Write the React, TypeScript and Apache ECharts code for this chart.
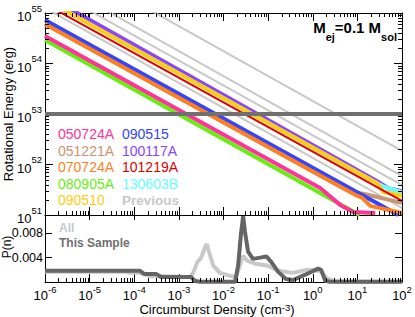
import React, { useEffect, useRef } from 'react';
import * as echarts from 'echarts';

const FONT = '"Liberation Sans", Arial, Helvetica, sans-serif';

// ---------- Top panel: [log10 density (cm^-3), log10 rotational energy (erg)] ----------
const E_050724A = [[-6, 54.545], [0.166, 51.535], [0.614, 51.2], [0.906, 51.06], [1.4, 51.04]];
const E_051221A = [[-6, 54.78], [0.457, 51.64], [0.84, 51.46], [1.13, 51.42], [2.0, 51.24]];
const E_070724A = [[-6, 54.78], [0.95, 51.4], [1.11, 51.34], [1.29, 51.18], [2.0, 51.04]];
const E_080905A = [[-6, 54.465], [1.05, 51.0]];
const E_090510 = [[-6, 55.27], [1.444, 51.63], [1.58, 51.455], [2.0, 51.38]];
const E_090515 = [[-6, 54.86], [1.92, 51.0]];
const E_100117A = [[-6, 55.36], [1.444, 51.67], [1.69, 51.53], [2.0, 51.47]];
const E_101219A = [[-6, 55.18], [2.0, 51.28]];
const E_130603B = [[-6, 55.27], [1.444, 51.63], [1.6, 51.56], [2.0, 51.45]];

const E_PREVIOUS = [
  [[-6, 55.1], [2.0, 51.14]],
  [[-6, 55.54], [2.0, 51.59]],
  [[-6, 55.73], [2.0, 51.77]],
  [[-6, 56.22], [2.0, 52.27]],
];
const E_LIMIT = [[-6, 53], [2, 53]];

// ---------- Bottom panel: [log10 density, P(n)] ----------
const P_ALL = [
  [-6, 0.0017], [-4.21, 0.0017], [-4.09, 0.0015], [-3.87, 0.0015], [-3.65, 0.001],
  [-2.75, 0.00083], [-2.68, 0.0015], [-2.59, 0.0032], [-2.5, 0.004], [-2.41, 0.0058],
  [-2.37, 0.0062], [-2.32, 0.0048], [-2.23, 0.0027], [-2.08, 0.0015], [-1.85, 0.001],
  [-1.72, 0.0008], [-1.63, 0.0028], [-1.56, 0.0043], [-1.47, 0.0035], [-1.29, 0.003],
  [-1.02, 0.0027], [-0.73, 0.0018], [-0.44, 0.0015], [-0.13, 0.002], [0.17, 0.0018],
  [0.3, 0.0007], [0.46, 0.00017], [0.73, 0.00005], [2, 0.00005],
];
const P_SAMPLE = [
  [-6, 0.00183], [-3.87, 0.00183], [-3.78, 0.00133], [-3.51, 0.00133], [-3.4, 0.00083],
  [-2.73, 0.00083], [-2.64, 0.00017], [-2.52, 0.00003], [-1.74, 0.00003], [-1.67, 0.0028],
  [-1.61, 0.0078], [-1.56, 0.0108], [-1.52, 0.0083], [-1.45, 0.005], [-1.34, 0.0038],
  [-1.18, 0.004], [-1.04, 0.0042], [-0.93, 0.0033], [-0.78, 0.0017], [-0.6, 0.0005],
  [-0.44, 0.00033], [-0.17, 0.0012], [0.12, 0.0022], [0.19, 0.002], [0.28, 0.0002],
  [0.39, 0.00003], [2, 0.00003],
];

const LEGEND_COL1 = ['050724A', '051221A', '070724A', '080905A', '090510'];
const LEGEND_COL2 = ['090515', '100117A', '101219A', '130603B', 'Previous'];

const COLORS: Record<string, string> = {
  '050724A': '#ff3399',
  '051221A': '#cc9470',
  '070724A': '#ff7f1e',
  '080905A': '#66ee11',
  '090510': '#ffcc11',
  '090515': '#3344ff',
  '100117A': '#8844ff',
  '101219A': '#dd0000',
  '130603B': '#66ffff',
  Previous: '#c8c8c8',
};

const lin = (pts: number[][]) => pts.map(([a, b]) => [Math.pow(10, a), Math.pow(10, b)]);
const linX = (pts: number[][]) => pts.map(([a, b]) => [Math.pow(10, a), b]);

const minorDecades = (from: number, to: number) => {
  const out: number[] = [];
  for (let k = from; k < to; k++) for (let m = 2; m <= 9; m++) out.push(m * Math.pow(10, k));
  return out;
};

const powLabel = (v: number) => `{b|10}{s|${Math.round(Math.log10(v))}}`;
const powRichY = {
  b: { fontSize: 13, fontFamily: FONT, color: '#000', lineHeight: 20, verticalAlign: 'bottom' },
  s: { fontSize: 9.5, fontFamily: FONT, color: '#000', lineHeight: 9, verticalAlign: 'top' },
};
const powRichX = {
  b: { fontSize: 13, fontFamily: FONT, color: '#000', lineHeight: 18, verticalAlign: 'bottom' },
  s: { fontSize: 9.5, fontFamily: FONT, color: '#000', lineHeight: 6, verticalAlign: 'top' },
};

const line = (name: string, pts: number[][], color: string, width: number, xi: number, yi: number) => ({
  type: 'line',
  name,
  data: pts,
  xAxisIndex: xi,
  yAxisIndex: yi,
  symbol: 'none',
  showSymbol: false,
  silent: true,
  lineStyle: { color, width },
  itemStyle: { color },
});

const frame = { show: true, onZero: false, lineStyle: { color: '#000', width: 1 } };
const tick = (length: number) => ({ show: true, inside: true, length, lineStyle: { color: '#000', width: 1 } });

function buildOption() {
  const series: any[] = [];
  E_PREVIOUS.forEach((p, i) => series.push(line('Previous' + i, lin(p), COLORS.Previous, 2, 0, 0)));
  series.push(line('051221A', lin(E_051221A), COLORS['051221A'], 4, 0, 0));
  series.push(line('090515', lin(E_090515), COLORS['090515'], 4, 0, 0));
  series.push(line('070724A', lin(E_070724A), COLORS['070724A'], 4, 0, 0));
  series.push(line('080905A', lin(E_080905A), COLORS['080905A'], 4, 0, 0));
  series.push(line('050724A', lin(E_050724A), COLORS['050724A'], 4, 0, 0));
  series.push(line('100117A', lin(E_100117A), COLORS['100117A'], 4, 0, 0));
  series.push(line('130603B', lin(E_130603B), COLORS['130603B'], 4, 0, 0));
  series.push(line('090510', lin(E_090510), COLORS['090510'], 4, 0, 0));
  series.push(line('101219A', lin(E_101219A), COLORS['101219A'], 2, 0, 0));
  series.push(line('limit', lin(E_LIMIT), '#707070', 4, 0, 0));

  series.push(line('All', linX(P_ALL), '#c8c8c8', 4, 2, 2));
  series.push(line('This Sample', linX(P_SAMPLE), '#656565', 4, 2, 2));

  const minorX = minorDecades(-6, 2);
  const minorY = minorDecades(51, 55);

  const xMinor = (gi: number, yRef: number, topLen: number, botLen: number) => ({
    type: 'custom',
    xAxisIndex: gi === 0 ? 0 : 2,
    yAxisIndex: gi === 0 ? 0 : 2,
    silent: true,
    clip: false,
    z: 10,
    data: minorX.map((v) => [v, yRef]),
    renderItem: (params: any, api: any) => {
      const cs = params.coordSys;
      const x = Math.round(api.coord([api.value(0), api.value(1)])[0]) + 0.5;
      const children: any[] = [];
      if (topLen > 0)
        children.push({ type: 'line', shape: { x1: x, y1: cs.y, x2: x, y2: cs.y + topLen }, style: { stroke: '#000', lineWidth: 1 } });
      if (botLen > 0)
        children.push({ type: 'line', shape: { x1: x, y1: cs.y + cs.height, x2: x, y2: cs.y + cs.height - botLen }, style: { stroke: '#000', lineWidth: 1 } });
      return { type: 'group', children };
    },
  });

  series.push(xMinor(0, 1e53, 4, 4));
  series.push(xMinor(1, 0.005, 0, 4));
  series.push({
    type: 'custom',
    xAxisIndex: 0,
    yAxisIndex: 0,
    silent: true,
    clip: false,
    z: 10,
    data: minorY.map((v) => [1e-3, v]),
    renderItem: (params: any, api: any) => {
      const cs = params.coordSys;
      const y = Math.round(api.coord([api.value(0), api.value(1)])[1]) + 0.5;
      return {
        type: 'group',
        children: [
          { type: 'line', shape: { x1: cs.x, y1: y, x2: cs.x + 4, y2: y }, style: { stroke: '#000', lineWidth: 1 } },
          { type: 'line', shape: { x1: cs.x + cs.width, y1: y, x2: cs.x + cs.width - 4, y2: y }, style: { stroke: '#000', lineWidth: 1 } },
        ],
      };
    },
  });

  const logX = (gi: number, pos: string, len: number, labels: boolean) => ({
    gridIndex: gi,
    type: 'log',
    logBase: 10,
    min: 1e-6,
    max: 1e2,
    position: pos,
    axisLine: frame,
    axisTick: tick(len),
    minorTick: { show: false },
    splitLine: { show: false },
    axisLabel: labels
      ? { show: true, formatter: powLabel, rich: powRichX, margin: 2, color: '#000' }
      : { show: false },
  });

  const legendTexts: any[] = [];
  LEGEND_COL1.forEach((n, i) =>
    legendTexts.push({
      type: 'text',
      x: 58,
      y: 134 + i * 16.6,
      silent: true,
      style: { text: n, fill: COLORS[n], fontSize: 14, fontFamily: FONT, verticalAlign: 'middle', align: 'left' },
    })
  );
  LEGEND_COL2.forEach((n, i) =>
    legendTexts.push({
      type: 'text',
      x: 122,
      y: 134 + i * 16.6,
      silent: true,
      style: {
        text: n,
        fill: COLORS[n],
        fontSize: n === 'Previous' ? 13.5 : 14,
        fontWeight: n === 'Previous' ? 'bold' : 'normal',
        fontFamily: FONT,
        verticalAlign: 'middle',
        align: 'left',
      },
    })
  );

  return {
    animation: false,
    backgroundColor: '#fff',
    grid: [
      { left: 45, top: 13, width: 357, height: 202, containLabel: false },
      { left: 45, top: 215, width: 357, height: 67, containLabel: false },
    ],
    xAxis: [logX(0, 'bottom', 8, false), logX(0, 'top', 8, false), logX(1, 'bottom', 8, true), logX(1, 'top', 5, false)],
    yAxis: [
      {
        gridIndex: 0,
        type: 'log',
        logBase: 10,
        min: 1e51,
        max: 1e55,
        position: 'left',
        axisLine: frame,
        axisTick: tick(8),
        minorTick: { show: false },
        splitLine: { show: false },
        axisLabel: { show: true, formatter: powLabel, rich: powRichY, margin: 3, color: '#000' },
      },
      {
        gridIndex: 0,
        type: 'log',
        logBase: 10,
        min: 1e51,
        max: 1e55,
        position: 'right',
        axisLine: frame,
        axisTick: tick(8),
        minorTick: { show: false },
        splitLine: { show: false },
        axisLabel: { show: false },
      },
      {
        gridIndex: 1,
        type: 'value',
        min: 0,
        max: 0.011,
        interval: 0.004,
        position: 'left',
        axisLine: frame,
        axisTick: tick(7),
        splitLine: { show: false },
        axisLabel: {
          show: true,
          margin: 2,
          color: '#000',
          fontSize: 12.5,
          fontFamily: FONT,
          formatter: (v: number) =>
            Math.abs(v - 0.004) < 1e-9 ? '0.004' : Math.abs(v - 0.008) < 1e-9 ? '0.008' : '',
        },
      },
      {
        gridIndex: 1,
        type: 'value',
        min: 0,
        max: 0.011,
        interval: 0.004,
        position: 'right',
        axisLine: frame,
        axisTick: tick(7),
        splitLine: { show: false },
        axisLabel: { show: false },
      },
    ],
    series,
    graphic: [
      ...legendTexts,
      {
        type: 'text',
        x: 59,
        y: 228,
        silent: true,
        style: { text: 'All', fill: '#c8c8c8', fontSize: 12, fontWeight: 'bold', fontFamily: FONT, verticalAlign: 'middle' },
      },
      {
        type: 'text',
        x: 59,
        y: 243,
        silent: true,
        style: { text: 'This Sample', fill: '#707070', fontSize: 12, fontWeight: 'bold', fontFamily: FONT, verticalAlign: 'middle' },
      },
      {
        type: 'text',
        x: 397,
        y: 31,
        silent: true,
        style: {
          text: '{m|M}{u|ej}{m|=0.1 M}{u|sol}',
          align: 'right',
          verticalAlign: 'middle',
          rich: {
            m: { fontSize: 15, fontWeight: 'bold', fontFamily: FONT, fill: '#000', lineHeight: 22, verticalAlign: 'top' },
            u: { fontSize: 11, fontWeight: 'bold', fontFamily: FONT, fill: '#000', lineHeight: 8, verticalAlign: 'bottom' },
          },
        },
      },
      {
        type: 'text',
        x: 8,
        y: 114,
        rotation: Math.PI / 2,
        silent: true,
        style: { text: 'Rotational Energy (erg)', fill: '#000', fontSize: 13, fontFamily: FONT, align: 'center', verticalAlign: 'middle' },
      },
      {
        type: 'text',
        x: 7,
        y: 247,
        rotation: Math.PI / 2,
        silent: true,
        style: { text: 'P(n)', fill: '#000', fontSize: 12, fontFamily: FONT, align: 'center', verticalAlign: 'middle' },
      },
      {
        type: 'text',
        x: 217,
        y: 309,
        silent: true,
        style: {
          text: '{a|Circumburst Density (cm}{s|-3}{a|)}',
          align: 'center',
          verticalAlign: 'middle',
          rich: {
            a: { fontSize: 13, fontFamily: FONT, fill: '#000', lineHeight: 14, verticalAlign: 'bottom' },
            s: { fontSize: 9.5, fontFamily: FONT, fill: '#000', lineHeight: 6, verticalAlign: 'top' },
          },
        },
      },
    ],
  };
}

export default function App() {
  const ref = useRef<HTMLDivElement>(null);
  useEffect(() => {
    if (!ref.current) return;
    const chart = echarts.init(ref.current, null, { renderer: 'svg' });
    chart.setOption(buildOption() as any);
    return () => chart.dispose();
  }, []);
  return (
    <div
      ref={ref}
      style={{ position: 'fixed', left: 0, top: 0, width: 415, height: 317, background: '#fff' }}
    />
  );
}
